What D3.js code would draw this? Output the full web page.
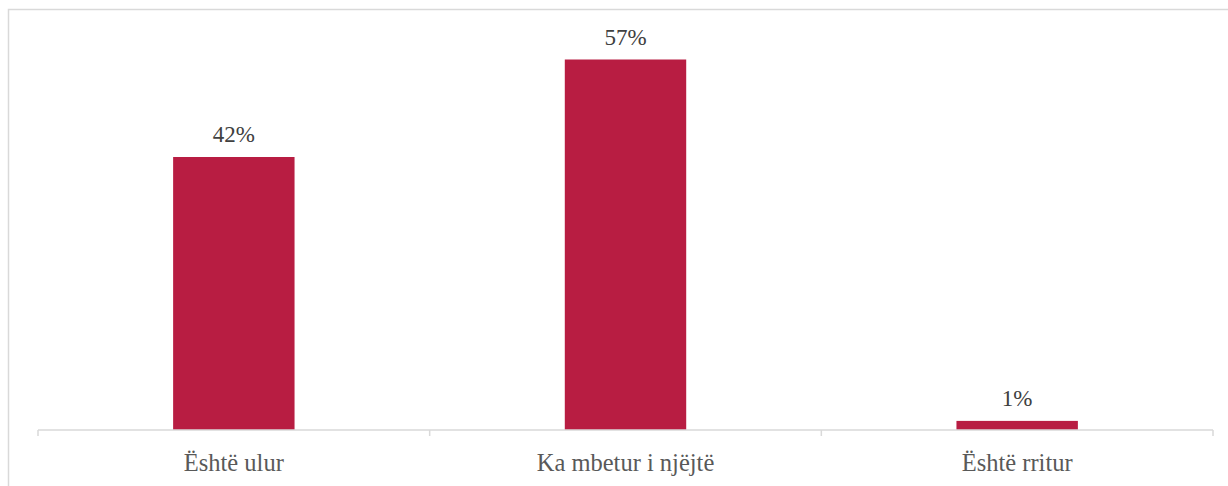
<html>
<head>
<meta charset="utf-8">
<style>
body { margin: 0; background: #fff; }
</style>
</head>
<body>
<div id="chart"></div>
<script src="https://d3js.org/d3.v7.min.js"></script>
<script>
var categories = ["Është ulur", "Ka mbetur i njëjtë", "Është rritur"];
var values = [42, 57, 1.4];
var valueLabels = ["42%", "57%", "1%"];

var width = 1228, height = 486;
var serif = "'Liberation Serif', 'Times New Roman', Times, serif";

var svg = d3.select("#chart").append("svg")
  .attr("width", width)
  .attr("height", height);

// chart frame
svg.append("rect")
  .attr("x", 8.5).attr("y", 9.5)
  .attr("width", 1240).attr("height", 500)
  .attr("fill", "none")
  .attr("stroke", "#d9d9d9")
  .attr("stroke-width", 1.5);

var x = d3.scaleBand()
  .domain(categories)
  .range([38, 1213])
  .paddingInner(0.69)
  .paddingOuter(0.345);

var band = d3.scaleBand().domain(categories).range([38, 1213]);

var y = d3.scaleLinear()
  .domain([0, 60])
  .range([430, 40]);

svg.selectAll(".bar")
  .data(values)
  .enter().append("rect")
  .attr("class", "bar")
  .attr("x", function(d, i) { return x(categories[i]); })
  .attr("y", function(d) { return y(d); })
  .attr("width", x.bandwidth())
  .attr("height", function(d) { return y(0) - y(d); })
  .attr("fill", "#b81d42");

svg.selectAll(".value")
  .data(values)
  .enter().append("text")
  .attr("class", "value")
  .attr("x", function(d, i) { return x(categories[i]) + x.bandwidth() / 2; })
  .attr("y", function(d) { return y(d) - 15; })
  .attr("text-anchor", "middle")
  .style("font-family", serif)
  .style("font-size", "23px")
  .style("fill", "#404040")
  .text(function(d, i) { return valueLabels[i]; });

// axis line and ticks between categories
var axis = svg.append("g").attr("transform", "translate(0,430)");
axis.append("line")
  .attr("x1", 38).attr("x2", 1213)
  .attr("stroke", "#d9d9d9").attr("stroke-width", 1.5);

var tickPos = categories.map(function(c) { return band(c); }).concat([band.range()[1]]);
axis.selectAll(".tick")
  .data(tickPos)
  .enter().append("line")
  .attr("x1", function(d) { return d; })
  .attr("x2", function(d) { return d; })
  .attr("y1", 0).attr("y2", 6)
  .attr("stroke", "#d9d9d9").attr("stroke-width", 1.5);

axis.selectAll(".cat")
  .data(categories)
  .enter().append("text")
  .attr("class", "cat")
  .attr("x", function(d) { return band(d) + band.bandwidth() / 2; })
  .attr("y", 41)
  .attr("text-anchor", "middle")
  .style("font-family", serif)
  .style("font-size", "24.5px")
  .style("fill", "#595959")
  .text(function(d) { return d; });
</script>
</body>
</html>
